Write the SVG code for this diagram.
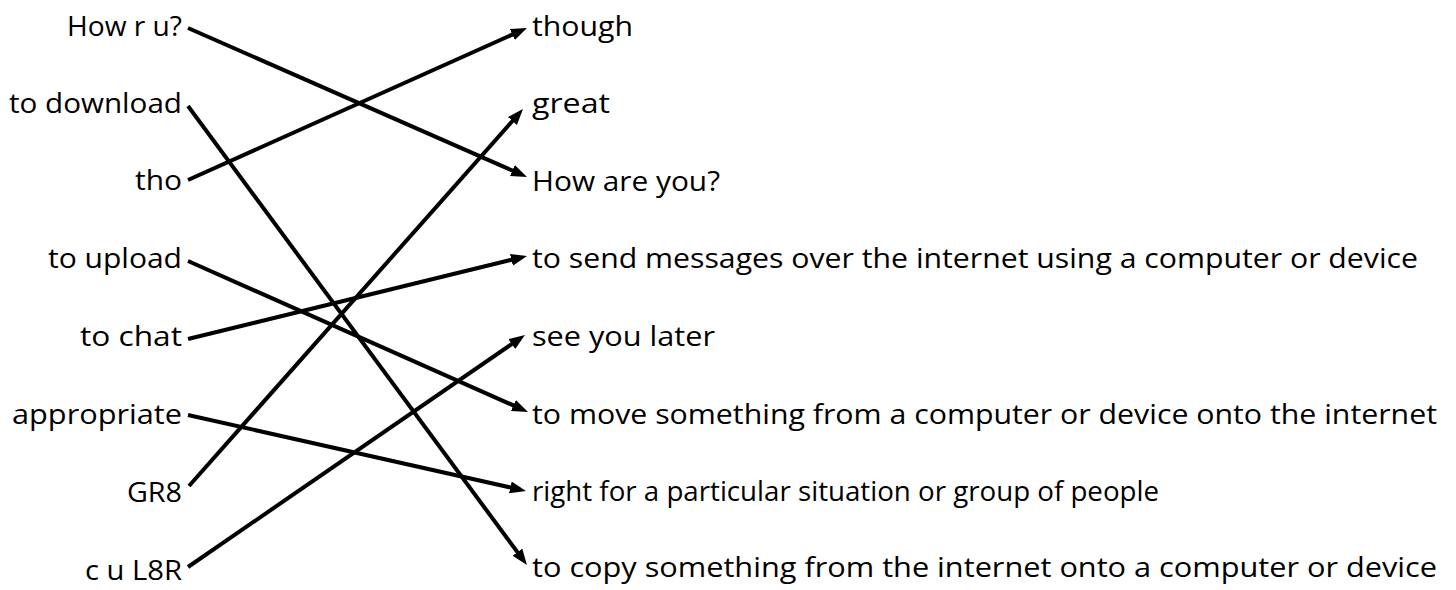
<svg xmlns="http://www.w3.org/2000/svg" width="1456" height="590" viewBox="0 0 1456 590">
<style>
text{font-family:"Open Sans","Noto Sans",sans-serif;font-size:28px;font-weight:500;fill:#000}
.l{text-anchor:end}
.c line{stroke:#000;stroke-width:4;marker-end:url(#a)}
</style>
<defs><marker id="a" markerUnits="userSpaceOnUse" markerWidth="17" markerHeight="13" refX="8" refY="6" orient="auto"><path d="M0,0 L16,6 L0,12 z" fill="#000"/></marker></defs>
<rect width="1456" height="590" fill="#fff"/>
<g id="connectors" class="c">
<line x1="188" y1="28" x2="519.7" y2="173.8"/>
<line x1="188" y1="106" x2="522.2" y2="558.6"/>
<line x1="188" y1="180" x2="519.7" y2="31.3"/>
<line x1="188" y1="261" x2="520.7" y2="408.7"/>
<line x1="188" y1="339" x2="519.2" y2="257.9"/>
<line x1="188" y1="415" x2="518.2" y2="489.2"/>
<line x1="189" y1="486" x2="517.7" y2="115"/>
<line x1="188" y1="567" x2="518.4" y2="339.5"/>
</g>
<g id="n-l1"><text class="l" x="182" y="36" textLength="115" lengthAdjust="spacingAndGlyphs">How r u?</text></g>
<g id="n-l2"><text class="l" x="182" y="113" textLength="173" lengthAdjust="spacingAndGlyphs">to download</text></g>
<g id="n-l3"><text class="l" x="182" y="190" textLength="47" lengthAdjust="spacingAndGlyphs">tho</text></g>
<g id="n-l4"><text class="l" x="182" y="268" textLength="134" lengthAdjust="spacingAndGlyphs">to upload</text></g>
<g id="n-l5"><text class="l" x="182" y="346" textLength="102" lengthAdjust="spacingAndGlyphs">to chat</text></g>
<g id="n-l6"><text class="l" x="182" y="424" textLength="170" lengthAdjust="spacingAndGlyphs">appropriate</text></g>
<g id="n-l7"><text class="l" x="182" y="502" textLength="55" lengthAdjust="spacingAndGlyphs">GR8</text></g>
<g id="n-l8"><text class="l" x="182" y="580" textLength="97" lengthAdjust="spacingAndGlyphs">c u L8R</text></g>
<g id="n-r1"><text x="532" y="36" textLength="101" lengthAdjust="spacingAndGlyphs">though</text></g>
<g id="n-r2"><text x="532" y="113" textLength="78" lengthAdjust="spacingAndGlyphs">great</text></g>
<g id="n-r3"><text x="532" y="191" textLength="188" lengthAdjust="spacingAndGlyphs">How are you?</text></g>
<g id="n-r4"><text x="532" y="268" textLength="886" lengthAdjust="spacingAndGlyphs">to send messages over the internet using a computer or device</text></g>
<g id="n-r5"><text x="532" y="346" textLength="183" lengthAdjust="spacingAndGlyphs">see you later</text></g>
<g id="n-r6"><text x="532" y="424" textLength="905" lengthAdjust="spacingAndGlyphs">to move something from a computer or device onto the internet</text></g>
<g id="n-r7"><text x="532" y="501" textLength="627" lengthAdjust="spacingAndGlyphs">right for a particular situation or group of people</text></g>
<g id="n-r8"><text x="532" y="577" textLength="905" lengthAdjust="spacingAndGlyphs">to copy something from the internet onto a computer or device</text></g>
</svg>
